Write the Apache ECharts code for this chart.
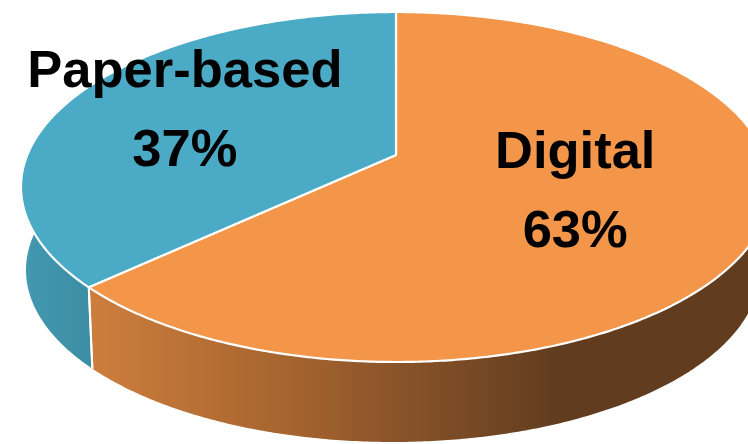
<!DOCTYPE html>
<html><head><meta charset="utf-8">
<script src="https://cdn.jsdelivr.net/npm/echarts@6/dist/echarts.min.js"></script>
<style>html,body{margin:0;padding:0;background:#fff}#c{width:748px;height:444px}</style>
</head><body><div id="c"></div>
<script>
// ---- data ----
const categories = ['Digital', 'Paper-based'];
const values = [63, 37];

// ---- styles ----
const topColors = ['#F4964A', '#4BAAC5'];
const wallStops = [
  [[0, '#CD7E3D'], [0.45, '#A3622E'], [0.75, '#7E4D27'], [1, '#613C1F']],
  [[0, '#4399B0'], [1, '#3C8DA3']]
];
const wallGrad = [[90, 560], [20, 95]];
const labelRadius = [0.51, 0.66];
const labelShift = [[0, 2], [2, -1]];

const TOP = {cx: 396, cy: 187, rx: 375, ry: 175};
const BOT = {cx: 393, cy: 270, rx: 367, ry: 172};
const PY = 155;
const T = (PY - TOP.cy) / TOP.ry;
const A = Math.atanh(T), C = Math.cosh(A), S = Math.sinh(A);

function disk(theta, r) {
  const x = r * Math.sin(theta), y = -r * Math.cos(theta);
  const w = y * S + C, yy = y * C + S;
  return [x / w, yy / w];
}
function scr(E, uv) { return [E.cx + uv[0] * E.rx, E.cy + uv[1] * E.ry]; }

const total = values.reduce((a, b) => a + b, 0);

const chart = echarts.init(document.getElementById('c'), null, {renderer: 'canvas'});
chart.setOption({
  animation: false,
  series: [{
    type: 'custom',
    coordinateSystem: 'none',
    silent: true,
    data: values.map((v, i) => ({name: categories[i], value: [v]})),
    renderItem: function (params, api) {
      const i = params.dataIndex;
      const v = api.value(0);
      let cum = 0;
      for (let k = 0; k < i; k++) cum += values[k];
      const a0 = cum / total * Math.PI * 2;
      const a1 = (cum + v) / total * Math.PI * 2;
      const n = Math.max(4, Math.ceil((a1 - a0) / (Math.PI / 360)));
      const children = [];
      const samples = [];
      for (let j = 0; j <= n; j++) {
        const th = a0 + (a1 - a0) * j / n;
        samples.push(disk(th, 1));
      }
      // walls
      let run = [];
      const flush = () => {
        if (run.length > 1) {
          const pts = run.map(uv => scr(TOP, uv));
          for (let k = run.length - 1; k >= 0; k--) pts.push(scr(BOT, run[k]));
          children.push({
            type: 'polygon', z2: 1,
            shape: {points: pts},
            style: {
              fill: {type: 'linear', x: wallGrad[i][0], y: 0, x2: wallGrad[i][1], y2: 0, global: true,
                colorStops: wallStops[i].map(s => ({offset: s[0], color: s[1]}))}
            }
          });
        }
        run = [];
      };
      samples.forEach(uv => { if (uv[1] >= -0.6) run.push(uv); else flush(); });
      flush();
      // boundary line on wall
      [a0, a1].forEach(th => {
        const uv = disk(th, 1);
        if (uv[1] > 0.05) {
          const p = scr(TOP, uv), q = scr(BOT, uv);
          children.push({type: 'line', z2: 5, shape: {x1: p[0], y1: p[1], x2: q[0], y2: q[1]},
            style: {stroke: '#ffffff', lineWidth: 2}});
        }
      });
      // top face
      const ctr = scr(TOP, disk(0, 0));
      const topPts = [ctr].concat(samples.map(uv => scr(TOP, uv)));
      children.push({
        type: 'polygon', z2: 10,
        shape: {points: topPts},
        style: {fill: topColors[i], stroke: '#ffffff', lineWidth: 2.2, lineJoin: 'round'}
      });
      // label
      const mid = (a0 + a1) / 2;
      const lp = scr(TOP, disk(mid, labelRadius[i]));
      children.push({
        type: 'text', z2: 20, x: lp[0] + labelShift[i][0], y: lp[1] + labelShift[i][1],
        style: {
          text: categories[i] + '\n' + Math.round(v / total * 100) + '%',
          fill: '#000000',
          fontFamily: '"Liberation Sans", Arial, sans-serif',
          fontWeight: 'bold', fontSize: 52.5, lineHeight: 79,
          align: 'center', verticalAlign: 'middle'
        }
      });
      return {type: 'group', children: children};
    }
  }]
});
</script>
</body></html>
